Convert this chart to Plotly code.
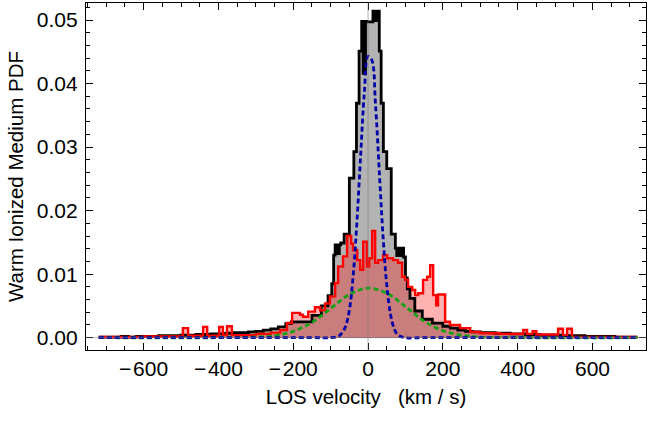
import plotly.graph_objects as go

# ---------------- data ----------------
# black / gray histogram (bin edges in km/s)
hist_edges = [-720, -700, -680, -660, -640, -620, -600, -580, -560, -540, -520, -500,
              -480, -460, -440, -420, -400, -380, -360, -340, -320, -300, -280, -260,
              -240, -220, -205, -150, -125, -107, -97, -92, -88, -73, -64, -50, -38,
              -31, -24, -17, -3, 13, 30, 35, 41, 50, 62, 73, 95, 100, 105, 112, 125,
              145, 172, 200, 220, 240, 260, 280, 300, 320, 340, 360, 380, 400, 420,
              440, 460, 480, 500, 520, 540, 560, 580, 600, 620, 640, 660, 680, 700, 720]
# outline (black) histogram values
black_vals = [0.0001, 0.0001, 0.0001, 0.0002, 0.0001, 0.0002, 0.0002, 0.0002, 0.0003,
              0.0003, 0.0003, 0.0004, 0.0004, 0.0005, 0.0005, 0.0006, 0.0006, 0.0007,
              0.0008, 0.0008, 0.0009, 0.0010, 0.0012, 0.0014, 0.0017, 0.0022, 0.0025,
              0.0035, 0.0050, 0.0066, 0.0085, 0.0130, 0.0146, 0.0149, 0.0163, 0.0251,
              0.0293, 0.0369, 0.0451, 0.0498, 0.0497, 0.0514, 0.0451, 0.0369, 0.0293,
              0.0266, 0.0163, 0.0141, 0.0127, 0.0094, 0.0077, 0.0062, 0.0042, 0.0029,
              0.0023, 0.0018, 0.0015, 0.0012, 0.0010, 0.0009, 0.0008, 0.0008, 0.0007,
              0.0007, 0.0006, 0.0006, 0.0005, 0.0005, 0.0004, 0.0004, 0.0004, 0.0003,
              0.0003, 0.0003, 0.0002, 0.0002, 0.0002, 0.0002, 0.0001, 0.0001, 0.0001]
# gray filled histogram values (lower than the outline near the peak)
gray_vals = [0.0001, 0.0001, 0.0001, 0.0002, 0.0001, 0.0002, 0.0002, 0.0002, 0.0003,
             0.0003, 0.0003, 0.0004, 0.0004, 0.0005, 0.0005, 0.0006, 0.0006, 0.0007,
             0.0008, 0.0008, 0.0009, 0.0010, 0.0012, 0.0014, 0.0017, 0.0022, 0.0025,
             0.0035, 0.0050, 0.0066, 0.0085, 0.0130, 0.0130, 0.0149, 0.0163, 0.0251,
             0.0293, 0.0369, 0.0451, 0.0414, 0.0497, 0.0497, 0.0451, 0.0369, 0.0293,
             0.0266, 0.0163, 0.0127, 0.0127, 0.0094, 0.0077, 0.0062, 0.0042, 0.0029,
             0.0023, 0.0018, 0.0015, 0.0012, 0.0010, 0.0009, 0.0008, 0.0008, 0.0007,
             0.0007, 0.0006, 0.0006, 0.0005, 0.0005, 0.0004, 0.0004, 0.0004, 0.0003,
             0.0003, 0.0003, 0.0002, 0.0002, 0.0002, 0.0002, 0.0001, 0.0001, 0.0001]

# red histogram
red_edges = [-720, -600, -495, -481, -441, -430, -398, -388, -377, -364, -300, -260,
             -235, -217, -203, -182, -174, -160, -142, -128, -115, -102, -88, -80,
             -67, -56, -45, -40, -29, -21, -13, -3, 3, 11, 19, 27, 40, 51, 67, 80,
             91, 99, 107, 118, 126, 134, 147, 158, 166, 174, 182, 187, 206, 219,
             246, 273, 300, 353, 415, 425, 440, 450, 508, 521, 532, 545, 720]
red_vals = [0.0001, 0.0002, 0.0015, 0.0003, 0.0017, 0.0003, 0.0017, 0.0004, 0.0018,
            0.0004, 0.0006, 0.0008, 0.0012, 0.0023, 0.0039, 0.0036, 0.0033, 0.0041,
            0.0048, 0.0043, 0.0054, 0.0065, 0.0086, 0.0112, 0.0128, 0.0160, 0.0148,
            0.0138, 0.0122, 0.0107, 0.0151, 0.0112, 0.0125, 0.0168, 0.0118, 0.0122,
            0.0130, 0.0125, 0.0122, 0.0118, 0.0096, 0.0091, 0.0080, 0.0075, 0.0067,
            0.0070, 0.0091, 0.0096, 0.0114, 0.0067, 0.0051, 0.0068, 0.0025, 0.0020,
            0.0015, 0.0009, 0.0007, 0.0006, 0.0012, 0.0006, 0.0010, 0.0005, 0.0014,
            0.0004, 0.0014, 0.0001]

# narrow (blue) fitted component
blue_v = [-720, -150, -100, -80, -70, -60, -50, -40, -30, -20, -10, 0, 10, 20, 30,
          40, 50, 60, 70, 80, 100, 150, 720]
blue_p = [0.0, 0.0, 0.0, 0.0002, 0.0007, 0.0018, 0.0043, 0.0096, 0.0180, 0.0285,
          0.0385, 0.0443, 0.0437, 0.0366, 0.0262, 0.0160, 0.0083, 0.0037, 0.0014,
          0.0004, 0.0, 0.0, 0.0]

# broad (green) fitted component
green_v = [-720, -400, -300, -250, -200, -150, -100, -50, 0, 50, 100, 150, 200, 250,
           300, 400, 720]
green_p = [0.0, 0.0, 0.0001, 0.0003, 0.0010, 0.0024, 0.0046, 0.0068, 0.0078, 0.0070,
           0.0049, 0.0026, 0.0011, 0.0004, 0.0001, 0.0, 0.0]

x_ticks = [-600, -400, -200, 0, 200, 400, 600]
x_tick_text = ["\u2212\u200a600", "\u2212\u200a400", "\u2212\u200a200", "0", "200", "400", "600"]
y_ticks = [0.00, 0.01, 0.02, 0.03, 0.04, 0.05]
y_tick_text = ["0.00", "0.01", "0.02", "0.03", "0.04", "0.05"]
x_title = "LOS velocity\u00a0\u00a0\u00a0(km / s)"
y_title = "Warm Ionized Medium PDF"


def steps(edges, vals):
    return list(edges), list(vals) + [vals[-1]]


bx, by = steps(hist_edges, black_vals)
gx, gy = steps(hist_edges, gray_vals)
rx, ry = steps(red_edges, red_vals)

fig = go.Figure()
# black area (visible where outline histogram exceeds the gray one)
fig.add_trace(go.Scatter(x=bx, y=by, mode="lines", line=dict(shape="hv", width=0),
                         fill="tozeroy", fillcolor="black", hoverinfo="skip"))
fig.add_trace(go.Scatter(x=gx, y=gy, mode="lines", line=dict(shape="hv", width=0),
                         fill="tozeroy", fillcolor="rgb(179,179,179)", hoverinfo="skip"))
fig.add_trace(go.Scatter(x=rx, y=ry, mode="lines", line=dict(shape="hv", width=0),
                         fill="tozeroy", fillcolor="rgba(255,0,0,0.30)", hoverinfo="skip"))
fig.add_trace(go.Scatter(x=bx, y=by, mode="lines",
                         line=dict(shape="hv", width=2.8, color="black")))
fig.add_trace(go.Scatter(x=rx, y=ry, mode="lines",
                         line=dict(shape="hv", width=2.4, color="rgb(255,0,0)")))
fig.add_trace(go.Scatter(x=green_v, y=green_p, mode="lines",
                         line=dict(shape="spline", smoothing=1.0, width=2.8,
                                   color="rgb(20,160,20)", dash="5px,3px")))
fig.add_trace(go.Scatter(x=blue_v, y=blue_p, mode="lines",
                         line=dict(shape="spline", smoothing=1.0, width=2.8,
                                   color="rgb(0,0,170)", dash="5px,3px")))

# axes lines through the origin
fig.add_shape(type="line", x0=0, x1=0, y0=0, y1=1, xref="x", yref="paper",
              line=dict(color="rgba(120,120,120,0.55)", width=1), layer="above")
fig.add_shape(type="line", x0=0, x1=1, y0=0, y1=0, xref="paper", yref="y",
              line=dict(color="rgba(120,120,120,0.55)", width=1), layer="above")

font = "Liberation Sans, Arial, sans-serif"
fig.update_layout(
    width=649, height=422,
    margin=dict(l=86, r=3, t=3, b=72),
    paper_bgcolor="white", plot_bgcolor="white",
    showlegend=False,
    font=dict(family=font, color="black"),
)
fig.update_xaxes(
    range=[-754, 743], tickvals=x_ticks, ticktext=x_tick_text, ticks="inside",
    ticklen=7, tickwidth=1, tickcolor="black", showline=True, linecolor="black",
    linewidth=1.3, mirror="allticks", showgrid=False, zeroline=False, automargin=False,
    minor=dict(dtick=50, ticks="inside", ticklen=4, tickcolor="black", showgrid=False),
    tickfont=dict(size=21, family=font),
    title=dict(text=x_title, font=dict(size=20.5, family=font), standoff=10),
)
fig.update_yaxes(
    range=[-0.00194, 0.05268], tickvals=y_ticks, ticktext=y_tick_text, ticks="inside",
    ticklen=7, tickwidth=1, tickcolor="black", showline=True, linecolor="black",
    linewidth=1.3, mirror="allticks", showgrid=False, zeroline=False, automargin=False,
    minor=dict(dtick=0.002, ticks="inside", ticklen=4, tickcolor="black", showgrid=False),
    tickfont=dict(size=21, family=font), ticklabelstandoff=3,
    title=dict(text=y_title, font=dict(size=20.5, family=font), standoff=7),
)

fig.write_html("out.html", config={"displayModeBar": False},
               post_script="document.body.style.margin='0';document.body.style.overflow='hidden';")
